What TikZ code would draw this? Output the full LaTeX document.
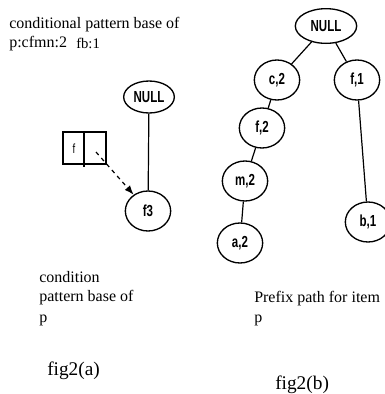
\documentclass[tikz,border=0pt]{standalone}
\usepackage{fontspec}
\setmainfont{Liberation Serif}
\newfontfamily\nodefont[FakeStretch=0.72]{Liberation Sans}
\usetikzlibrary{shapes.geometric, arrows.meta}

\begin{document}
\begin{tikzpicture}[x=0.75pt, y=-0.75pt,
  every node/.style={inner sep=0pt},
  treenode/.style={ellipse, draw, line width=1pt, minimum width=34, minimum height=30, font=\nodefont\bfseries\fontsize{12}{13}\selectfont},
  nullnode/.style={treenode, minimum width=44, minimum height=25},
  caption/.style={anchor=base west, font=\fontsize{12}{14}\selectfont}]
\useasboundingbox (0,0) rectangle (385,394);

% fig2(a)
\node[caption] (title1) at (9,28) {conditional pattern base of};
\node[caption] (title2) at (9,47) {p:cfmn:2};
\node[caption, font=\fontsize{11}{13}\selectfont] (title3) at (76,48) {fb:1};

\node[nullnode, minimum width=38, minimum height=24] (nullA) at (149,97) {NULL};
\node[treenode] (fthree) at (148,211) {f3};
\draw[line width=0.9pt] (nullA) -- (fthree);

\coordinate (BNW) at (63,132);
\coordinate (BSE) at (106,164);
\coordinate (BTop) at (84,132);
\coordinate (BBot) at (84,167);
\draw[line width=0.9pt] (BNW) rectangle (BSE);
\draw[line width=0.9pt] (BTop) -- (BBot);
\node[font=\nodefont\fontsize{10}{11}\selectfont] (fcell) at (74,149) {f};
\coordinate (fptr) at (96,152);
\draw[line width=0.9pt, dashed, -{Latex[length=7pt]}] (fptr) -- (fthree);

\node[caption] (capA1) at (39,282) {condition};
\node[caption] (capA2) at (39,301) {pattern base of};
\node[caption] (capA3) at (39,322) {p};
\node[caption, font=\fontsize{14.5}{16}\selectfont] (figA) at (47,375) {fig2(a)};

% fig2(b)
\node[nullnode, minimum width=46, minimum height=26] (nullB) at (326,26) {NULL};
\node[treenode] (c2) at (277,80) {c,2};
\node[treenode] (f1) at (357,80) {f,1};
\node[treenode] (f2) at (262,128) {f,2};
\node[treenode] (m2) at (245,181) {m,2};
\node[treenode] (a2) at (240,243) {a,2};
\node[treenode] (b1) at (368,222) {b,1};

\draw[line width=0.9pt] (nullB) -- (c2) -- (f2) -- (m2) -- (a2);
\draw[line width=0.9pt] (nullB) -- (f1) -- (b1);

\node[caption] (capB1) at (254,302) {Prefix path for item};
\node[caption] (capB2) at (254,322) {p};
\node[caption, font=\fontsize{14.5}{16}\selectfont] (figB) at (275,389) {fig2(b)};

\end{tikzpicture}
\end{document}
